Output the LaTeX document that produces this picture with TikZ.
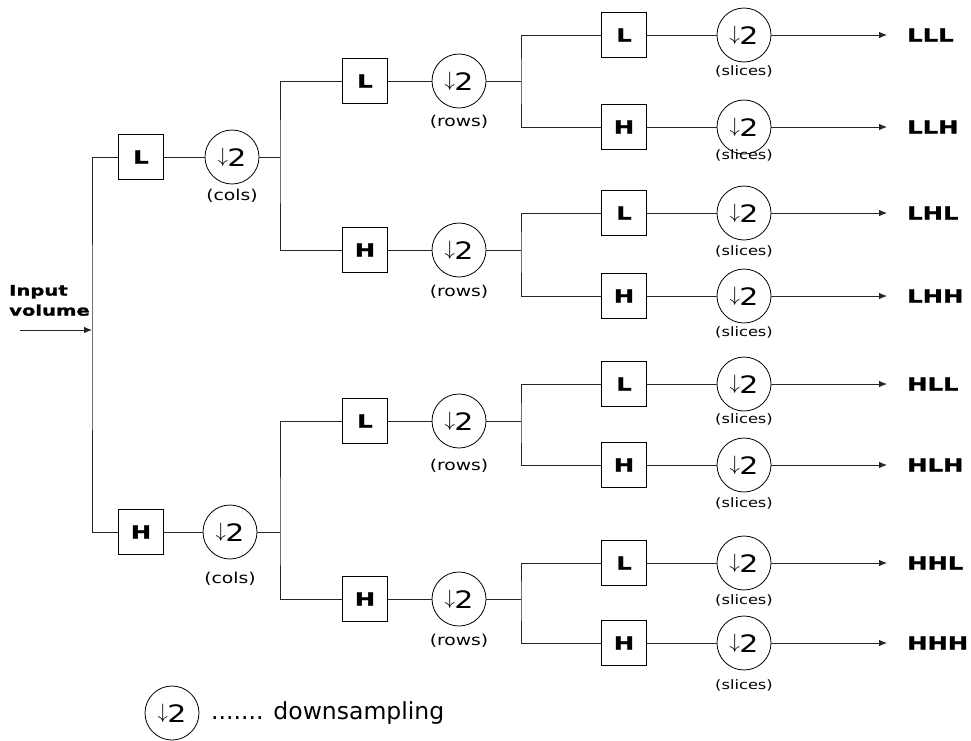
\documentclass[tikz,border=0pt]{standalone}
\usepackage{fontspec}
\setmainfont{DejaVu Sans}
\newfontfamily\bandfont[FakeStretch=1.35, FakeBold=1.5]{DejaVu Sans Bold}
\newfontfamily\notefont[FakeStretch=1.25]{DejaVu Sans}
\usetikzlibrary{arrows.meta, positioning}

% the downsampling symbol inside the circles
\newcommand{\dsym}{\raisebox{0.16em}{\fontsize{21}{21}\selectfont$\downarrow$}\kern-0.5pt 2}

\tikzset{
  wire/.style={line width=0.8pt, black!85},
  tip/.style={wire, -{Latex[length=8pt, width=6.5pt]}},
  filt/.style={draw, line width=0.8pt, minimum size=45pt, inner sep=0pt,
    font=\bandfont\fontsize{18}{18}\selectfont},
  down/.style={draw, line width=0.8pt, circle, minimum size=54pt, inner sep=0pt,
    font=\notefont\fontsize{24}{24}\selectfont},
  axis/.style={inner sep=0pt, font=\notefont\fontsize{15}{15}\selectfont},
  slice/.style={inner sep=0pt, font=\notefont\fontsize{13}{13}\selectfont},
  band/.style={anchor=west, inner sep=0pt, font=\bandfont\fontsize{18}{18}\selectfont},
}

\begin{document}
\begin{tikzpicture}[x=1pt, y=-1pt]
    \useasboundingbox (0,0) rectangle (971,740);

    % input
    \node[anchor=south west, inner sep=0pt, align=left,
      font=\bandfont\fontsize{14.5}{20}\selectfont] (inlab) at (9,316) {Input\\volume};
    \coordinate (src) at (20,330);
    \coordinate (fork0) at (92,330);
    \draw[tip] (src) -- (fork0);

    % first stage: columns
    \node[filt] (fL) at (141,157) {L};
    \node[down] (dL) at (232,157) {\dsym};
    \node[axis] (cL) at (232,196) {(cols)};
    \node[filt] (fH) at (141,532) {H};
    \node[down] (dH) at (230,532) {\dsym};
    \node[axis] (cH) at (230,579) {(cols)};
    \coordinate (forkL) at (280,157);
    \coordinate (forkH) at (280,532);
    \draw[wire] (fL.west) -| (fork0) |- (fH.west);
    \draw[wire] (fL) -- (dL) -- (forkL);
    \draw[wire] (fH) -- (dH) -- (forkH);

    % second stage: rows
    \foreach \nm/\b/\yy/\ly in {LL/L/81/122, LH/H/250/292, HL/L/421/466, HH/H/599/641} {
      \node[filt] (f\nm) at (365,\yy) {\b};
      \node[down] (d\nm) at (459,\yy) {\dsym};
      \node[axis] (r\nm) at (459,\ly) {(rows)};
      \coordinate (fork\nm) at (521,\yy);
      \draw[wire] (f\nm) -- (d\nm) -- (fork\nm);
    }
    \draw[wire] (fLL.west) -| (forkL) |- (fLH.west);
    \draw[wire] (fHL.west) -| (forkH) |- (fHH.west);

    % third stage: slices
    \foreach \nm/\b/\yy/\ly in {LLL/L/35/71, LLH/H/127/155, LHL/L/213/251, LHH/H/296/332,
                                HLL/L/384/419, HLH/H/465/503, HHL/L/563/600, HHH/H/643/685} {
      \node[filt] (f\nm) at (624,\yy) {\b};
      \node[down] (d\nm) at (744,\yy) {\dsym};
      \node[slice] (s\nm) at (744,\ly) {(slices)};
      \node[band] (o\nm) at (907,\yy) {\nm};
      \draw[wire] (f\nm) -- (d\nm);
      \draw[tip, shorten >=20pt] (d\nm) -- (o\nm);
    }
    \draw[wire] (fLLL.west) -| (forkLL) |- (fLLH.west);
    \draw[wire] (fLHL.west) -| (forkLH) |- (fLHH.west);
    \draw[wire] (fHLL.west) -| (forkHL) |- (fHLH.west);
    \draw[wire] (fHHL.west) -| (forkHH) |- (fHHH.west);

    % legend
    \node[down] (key) at (172,713) {\dsym};
    \node[anchor=west, inner sep=0pt, font=\fontsize{23.5}{24}\selectfont]
      (keytxt) at (211,713) {....... downsampling};
\end{tikzpicture}
\end{document}
